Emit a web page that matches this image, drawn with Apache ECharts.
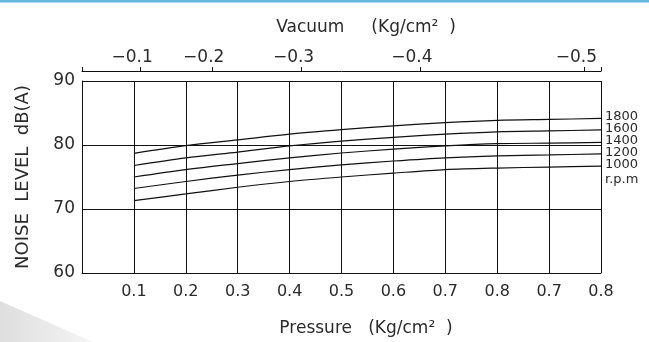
<!DOCTYPE html>
<html>
<head>
<meta charset="utf-8">
<style>
  html, body { margin: 0; padding: 0; background: #fff; }
  #noise { width: 649px; height: 342px; }
</style>
<script src="https://cdn.jsdelivr.net/npm/echarts@6/dist/echarts.min.js"></script>
</head>
<body>
<div id="noise"></div>
<script>
// bottom axis labels (as printed on the chart, first column has no label)
const pressureLabels = ['0.1', '0.2', '0.3', '0.4', '0.5', '0.6', '0.7', '0.8', '0.7', '0.8']
const categories = [''].concat(pressureLabels)

// top axis: vacuum labels and where they sit (in column units, 0..10)
const vacuumLabels = [-0.1, -0.2, -0.3, -0.4, -0.5]
const vacuumPos = [1.12, 2.5, 4.23, 6.51, 9.68]

// noise level dB(A) per column, one curve per speed
const rpmNames = ['1800', '1600', '1400', '1200', '1000']
const noise1800 = [78.7, 79.9, 80.8, 81.7, 82.4, 83.0, 83.5, 83.85, 84.0, 84.15]
const noise1600 = [76.8, 78.0, 78.9, 79.85, 80.6, 81.2, 81.7, 82.05, 82.2, 82.35]
const noise1400 = [75.0, 76.15, 77.1, 78.0, 78.75, 79.35, 79.85, 80.2, 80.3, 80.4]
const noise1200 = [73.2, 74.3, 75.3, 76.15, 76.9, 77.5, 78.0, 78.3, 78.45, 78.6]
const noise1000 = [71.3, 72.35, 73.4, 74.3, 75.0, 75.6, 76.15, 76.4, 76.55, 76.7]
const noiseData = [noise1800, noise1600, noise1400, noise1200, noise1000]

const font = 'DejaVu Sans'
const ink = '#2b2b2b'

let myChart = echarts.init(document.getElementById('noise'))

myChart.setOption({
  animation: false,
  backgroundColor: '#fff',
  textStyle: { fontFamily: font },
  grid: { left: 82, right: 48, top: 81, bottom: 66 },
  graphic: [
    { type: 'rect', left: 0, top: 0, shape: { width: 649, height: 2.5 }, style: { fill: '#62b6e0' } },
    {
      type: 'polygon',
      shape: { points: [[0, 301], [93, 342], [0, 342]] },
      style: {
        fill: new echarts.graphic.LinearGradient(0, 0, 1, 0, [
          { offset: 0, color: '#dedede' },
          { offset: 1, color: '#f5f5f5' }
        ])
      },
      z: -1
    },
    {
      type: 'text', left: 605, top: 173,
      style: { text: 'r.p.m', fill: ink, font: '13px "DejaVu Sans"' }
    }
  ],
  xAxis: [
    {
      type: 'category',
      data: categories,
      boundaryGap: false,
      name: 'Pressure   (Kg/cm²  )',
      nameLocation: 'middle',
      nameGap: 47,
      nameTextStyle: { color: ink, fontSize: 17, fontFamily: font, padding: [0, 0, 0, 49] },
      axisLine: { lineStyle: { color: '#111', width: 1 } },
      axisTick: { show: false },
      axisLabel: { interval: 0, color: ink, fontSize: 16, margin: 11 },
      splitLine: { show: true, interval: 0, lineStyle: { color: '#111', width: 1 } }
    },
    {
      type: 'value',
      position: 'top',
      offset: 10,
      min: 0,
      max: 10,
      name: 'Vacuum     (Kg/cm²  )',
      nameLocation: 'middle',
      nameGap: 35,
      nameTextStyle: { color: ink, fontSize: 17, fontFamily: font, padding: [0, 0, 0, 49] },
      axisLine: { show: true, lineStyle: { color: '#111', width: 1 } },
      axisTick: {
        show: true,
        length: 4,
        customValues: [0].concat(vacuumPos, [10]),
        lineStyle: { color: '#111' }
      },
      axisLabel: {
        color: ink,
        fontSize: 17,
        margin: 5,
        padding: [0, 16, 0, 0],
        customValues: vacuumPos,
        formatter (v) {
          let i = vacuumPos.indexOf(v)
          return i < 0 ? '' : '\u2212' + Math.abs(vacuumLabels[i]).toFixed(1)
        }
      },
      splitLine: { show: false }
    }
  ],
  yAxis: {
    type: 'value',
    min: 60,
    max: 90,
    interval: 10,
    name: 'NOISE  LEVEL  dB(A)',
    nameLocation: 'middle',
    nameGap: 50,
    nameTextStyle: { color: ink, fontSize: 18, fontFamily: font },
    axisLine: { show: true, lineStyle: { color: '#111', width: 1 } },
    axisTick: { show: false },
    axisLabel: { color: ink, fontSize: 17, margin: 7 },
    splitLine: { show: true, lineStyle: { color: '#111', width: 1 } }
  },
  series: rpmNames.map((name, k) => ({
    name: name,
    type: 'line',
    xAxisIndex: 0,
    data: [null].concat(noiseData[k]),
    smooth: 0.3,
    symbol: 'none',
    lineStyle: { color: '#111', width: 1.2 },
    endLabel: {
      show: true,
      formatter: '{a}',
      color: ink,
      fontSize: 13,
      fontFamily: font,
      distance: 4,
      offset: [0, -1.5]
    }
  }))
})
</script>
</body>
</html>
